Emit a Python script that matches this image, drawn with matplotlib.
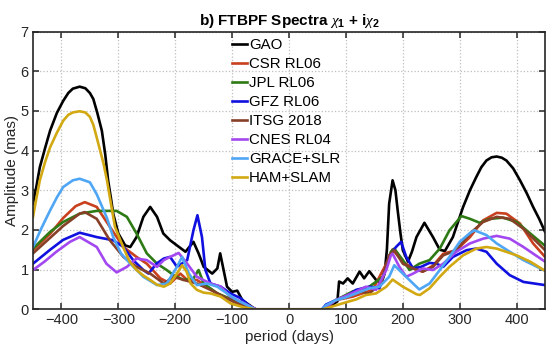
import numpy as np
import matplotlib
matplotlib.use('Agg')
import matplotlib.pyplot as plt

plt.rcParams['font.family'] = ['Liberation Sans', 'DejaVu Sans']
plt.rcParams['mathtext.fontset'] = 'custom'
plt.rcParams['mathtext.rm'] = 'Liberation Sans'
plt.rcParams['mathtext.it'] = 'Liberation Serif:italic'
plt.rcParams['mathtext.bf'] = 'Liberation Sans:bold'

# series: period (days) -> amplitude (mas)
gao_x = [-450, -444, -438, -429, -420, -408, -397, -388, -380, -368, -358, -350, -344, -337,
         -329, -323, -318, -313, -309, -300, -288, -279,
         -268, -256, -244, -232, -221, -209, -197, -182, -168, -159, -150, -135, -126, -121,
         -115, -109, -100, -91, -82, -74, -62, -58,
         0,
         60, 75, 85, 88, 95, 103, 112, 124, 132, 141, 153, 162, 168, 172, 176, 182, 187,
         191, 196, 200, 209, 216, 224, 238, 253, 265, 274, 288, 306, 318, 329, 338, 347,
         356, 365, 374, 382, 394, 406, 418, 429, 440, 450]
gao_y = [2.66, 3.1, 3.58, 4.05, 4.5, 4.95, 5.25, 5.45, 5.56, 5.61, 5.57, 5.45, 5.3, 4.95,
         4.5, 3.9, 3.25, 2.8, 2.41, 1.91, 1.61, 1.57,
         1.82, 2.33, 2.58, 2.33, 1.91, 1.74, 1.61, 1.45, 1.7, 1.41, 1.07, 0.9, 1.03, 1.41,
         0.99, 0.57, 0.44, 0.47, 0.23, 0.15, 0.03, 0,
         0,
         0, 0.1, 0.2, 0.7, 0.65, 0.78, 0.65, 0.95, 0.78, 0.96, 0.74, 0.65, 0.9, 1.5, 2.66,
         3.25, 3.0, 2.49, 1.9, 1.49, 1.2, 1.45, 1.82, 2.18, 1.82, 1.5, 1.47, 1.82, 2.58,
         3.0, 3.33, 3.58, 3.75, 3.83, 3.85, 3.82, 3.75, 3.55, 3.25, 2.92, 2.58, 2.27, 1.95]

csr_x = [-450, -420, -397, -375, -359, -338, -315, -291, -268, -250, -226, -209, -191, -179,
         -162, -144, -126, -103, -80, -60, 0,
         60, 82, 112, 147, 171, 182, 200, 218, 235, 253, 271, 294, 318, 341, 365, 382,
         406, 429, 450]
csr_y = [1.49, 1.9, 2.3, 2.6, 2.7, 2.58, 2.08, 1.57, 1.32, 1.15, 0.78, 0.65, 0.9, 0.74,
         0.74, 0.57, 0.4, 0.23, 0.08, 0, 0,
         0, 0.23, 0.32, 0.49, 1.15, 1.51, 1.2, 1.03, 0.95, 1.1, 1.4, 1.49, 1.82, 2.24, 2.43,
         2.41, 2.16, 1.66, 1.32]

jpl_x = [-450, -420, -397, -368, -338, -303, -285, -268, -250, -232, -215, -203, -185,
         -168, -159, -150, -126, -97, -74, -60, 0,
         60, 82, 112, 141, 165, 179, 185, 200, 212, 229, 247, 265, 282, 303, 318, 335,
         353, 376, 400, 424, 450]
jpl_y = [1.53, 1.95, 2.2, 2.41, 2.48, 2.48, 2.33, 1.91, 1.41, 1.15, 0.99, 0.86, 0.74,
         0.78, 0.99, 0.65, 0.4, 0.23, 0.05, 0, 0,
         0, 0.23, 0.45, 0.57, 0.82, 1.45, 1.53, 1.24, 0.99, 1.15, 1.24, 1.53, 1.99, 2.35,
         2.28, 2.18, 2.28, 2.31, 2.2, 1.91, 1.6]

gfz_x = [-450, -420, -397, -368, -338, -309, -291, -274, -256, -247, -233, -220, -209,
         -197, -179, -168, -161, -153, -147, -138, -120, -103, -85, -68, -60, 0,
         58, 65, 82, 100, 118, 141, 159, 176, 188, 197, 206, 218, 232, 247, 259, 271,
         288, 312, 329, 347, 365, 388, 412, 450]
gfz_y = [1.15, 1.5, 1.75, 1.93, 1.82, 1.74, 1.57, 1.24, 0.99, 0.9, 1.15, 1.28, 1.32,
         1.07, 1.24, 1.99, 2.37, 1.82, 0.99, 0.65, 0.57, 0.4, 0.28, 0.07, 0, 0,
         0, 0.12, 0.23, 0.32, 0.49, 0.57, 0.53, 1.32, 1.57, 1.7, 1.32, 1.03, 1.07, 1.17,
         1.15, 1.07, 1.32, 1.49, 1.53, 1.45, 1.15, 0.86, 0.69, 0.61]

itsg_x = [-450, -420, -397, -368, -359, -338, -315, -291, -268, -244, -220, -203, -185,
          -162, -138, -115, -91, -74, -60, 0,
          60, 82, 124, 141, 162, 176, 185, 200, 218, 235, 253, 271, 294, 318, 341, 365,
          388, 412, 450]
itsg_y = [1.41, 1.8, 2.1, 2.41, 2.45, 2.28, 1.74, 1.32, 1.07, 0.9, 0.65, 0.82, 0.74,
          0.65, 0.49, 0.32, 0.15, 0.05, 0, 0,
          0, 0.23, 0.45, 0.4, 0.65, 1.36, 1.49, 1.15, 1.03, 0.95, 1.07, 1.36, 1.49, 1.91,
          2.2, 2.33, 2.28, 2.03, 1.49]

cnes_x = [-450, -430, -409, -385, -368, -338, -321, -303, -285, -268, -250, -232, -220,
          -209, -194, -179, -162, -138, -120, -103, -79, -62, -58, 0,
          60, 82, 118, 135, 153, 171, 179, 182, 194, 206, 218, 235, 253, 271, 294, 318,
          341, 365, 388, 412, 450]
cnes_y = [0.99, 1.2, 1.45, 1.7, 1.82, 1.57, 1.15, 0.93, 1.07, 1.28, 1.24, 1.07, 1.24,
          1.32, 1.42, 1.15, 0.82, 0.65, 0.57, 0.32, 0.15, 0.03, 0, 0,
          0, 0.23, 0.45, 0.57, 0.49, 0.99, 1.36, 1.4, 1.07, 0.82, 0.9, 1.03, 0.99, 1.15,
          1.45, 1.66, 1.78, 1.85, 1.78, 1.57, 1.2]

grace_x = [-450, -435, -420, -408, -397, -380, -368, -350, -338, -320, -309, -295, -279,
           -256, -232, -215, -197, -188, -176, -162, -144, -126, -109, -91, -74, -60, 0,
           58, 65, 82, 100, 118, 141, 159, 176, 185, 200, 218, 229, 247, 265, 282, 300,
           318, 326, 347, 365, 388, 412, 450]
grace_y = [1.57, 2.05, 2.49, 2.82, 3.08, 3.25, 3.29, 3.2, 2.9, 2.3, 1.82, 1.4, 1.15,
           0.82, 0.61, 0.65, 1.07, 1.32, 0.9, 0.61, 0.65, 0.57, 0.4, 0.23, 0.11, 0, 0,
           0, 0.1, 0.23, 0.3, 0.4, 0.53, 0.57, 0.82, 1.11, 0.9, 0.65, 0.5, 0.65, 0.99,
           1.32, 1.7, 1.92, 1.99, 1.87, 1.66, 1.45, 1.24, 0.97]

ham_x = [-450, -444, -438, -429, -420, -408, -397, -388, -380, -368, -358, -350, -344, -338,
         -332, -326, -320, -315, -306, -291, -280,
         -268, -256, -244, -232, -220, -209, -197, -188, -180, -173, -162, -150, -138,
         -120, -103, -80, -60, 0,
         60, 94, 118, 135, 153, 171, 182, 200, 224, 230, 247, 265, 282, 306, 329, 347,
         365, 400, 424, 450]
ham_y = [2.33, 2.8, 3.25, 3.7, 4.08, 4.45, 4.75, 4.9, 4.96, 4.99, 4.96, 4.85, 4.65, 4.33,
         4.0, 3.67, 3.25, 2.83, 2.08, 1.55, 1.2,
         0.99, 0.85, 0.74, 0.62, 0.57, 0.65, 0.9, 1.11, 0.95, 0.65, 0.49, 0.42, 0.4,
         0.32, 0.15, 0.05, 0, 0,
         0, 0.15, 0.25, 0.36, 0.4, 0.57, 0.75, 0.57, 0.38, 0.36, 0.53, 0.82, 1.07, 1.36,
         1.53, 1.57, 1.53, 1.36, 1.2, 0.97]

series = [
    ('GAO', gao_x, gao_y, '#000000'),
    ('CSR RL06', csr_x, csr_y, '#c8401e'),
    ('JPL RL06', jpl_x, jpl_y, '#2e7a14'),
    ('GFZ RL06', gfz_x, gfz_y, '#1010e0'),
    ('ITSG 2018', itsg_x, itsg_y, '#874028'),
    ('CNES RL04', cnes_x, cnes_y, '#a348f0'),
    ('GRACE+SLR', grace_x, grace_y, '#4ea6f5'),
    ('HAM+SLAM', ham_x, ham_y, '#d2a912'),
]

fig = plt.figure(figsize=(5.5, 3.58), dpi=100)
ax = fig.add_axes([0.06, 0.136, 0.931, 0.776])

for name, x, y, c in series:
    ax.plot(x, y, color=c, lw=1.9, label=name, solid_joinstyle='round')

ax.set_xlim(-450, 450)
ax.set_ylim(0, 7)
ax.set_xticks(np.arange(-400, 401, 100))
ax.set_yticks(np.arange(0, 8, 1))
ax.grid(True, linestyle=':', color='#bfbfbf', linewidth=0.9)
ax.tick_params(direction='in', top=True, right=True, length=4, width=1.1,
               labelsize=10.5, colors='#262626', pad=3)
for s in ax.spines.values():
    s.set_linewidth(1.2)
    s.set_color('#262626')

ax.set_xlabel('period (days)', fontsize=11, color='#262626', labelpad=2)
ax.set_ylabel('Amplitude (mas)', fontsize=11, color='#262626', labelpad=1)
ax.set_title(r'b) FTBPF Spectra $\chi_\mathbf{1}$ + i$\chi_\mathbf{2}$', fontsize=11,
             fontweight='bold', pad=5)

leg = ax.legend(loc='upper left', bbox_to_anchor=(0.388, 0.975), frameon=False,
                fontsize=10.8, handlelength=1.0, handletextpad=0.15, labelspacing=0.33,
                borderaxespad=0, borderpad=0)

plt.savefig('out.png', dpi=100)
